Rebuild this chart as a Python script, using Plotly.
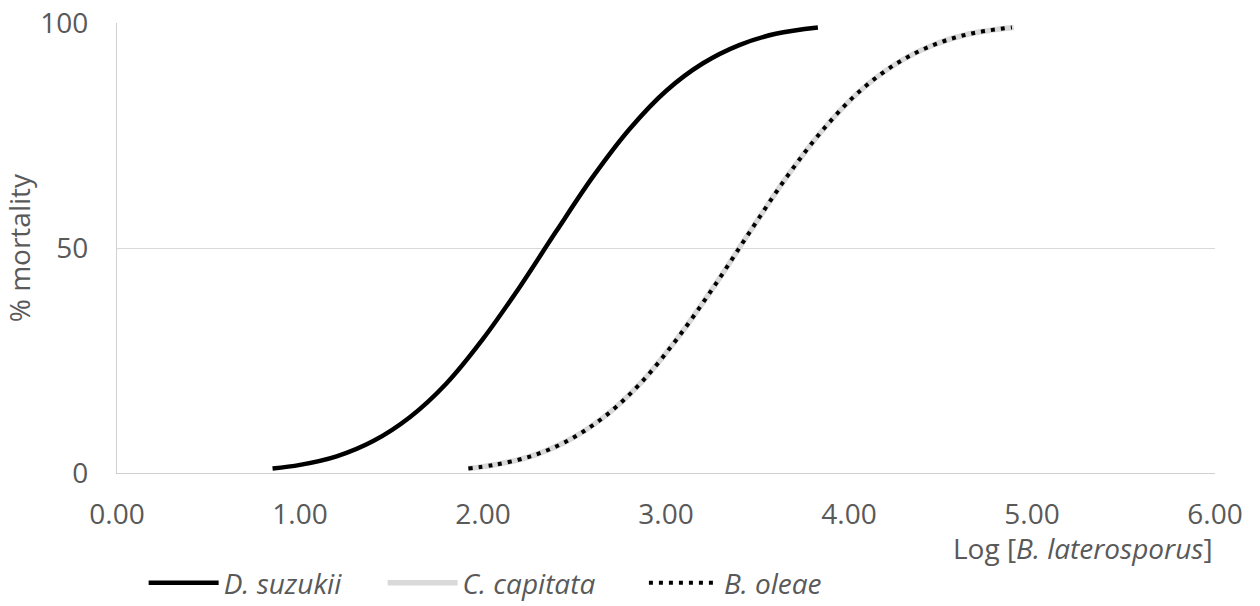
import plotly.graph_objects as go

# Log concentration values and % mortality
x_suzukii = [0.85, 1.0, 1.2, 1.4, 1.6, 1.8, 2.0, 2.2, 2.4, 2.6, 2.8, 3.0, 3.2, 3.4, 3.6, 3.83]
y_suzukii = [1.0, 1.8, 3.7, 7.1, 12.4, 19.9, 29.8, 41.3, 53.7, 65.8, 76.4, 84.9, 91.0, 95.1, 97.6, 99.0]

x_capitata = [1.92, 2.06, 2.26, 2.46, 2.66, 2.86, 3.06, 3.26, 3.46, 3.66, 3.86, 4.06, 4.26, 4.46, 4.66, 4.90]
y_capitata = [1.0, 1.8, 3.7, 7.1, 12.4, 19.9, 29.8, 41.3, 53.7, 65.8, 76.4, 84.9, 91.0, 95.1, 97.6, 99.0]

x_oleae = [1.92, 2.06, 2.26, 2.46, 2.66, 2.86, 3.06, 3.26, 3.46, 3.66, 3.86, 4.06, 4.26, 4.46, 4.66, 4.89]
y_oleae = [1.0, 1.8, 3.7, 7.1, 12.4, 19.9, 29.8, 41.3, 53.7, 65.8, 76.4, 84.9, 91.0, 95.1, 97.6, 99.0]

x_ticks = [0, 1, 2, 3, 4, 5, 6]
y_ticks = [0, 50, 100]

FONT = "Open Sans"
TXT = "#595959"
FS = 28
NB = "\u00a0"

fig = go.Figure()
fig.add_trace(go.Scatter(x=x_suzukii, y=y_suzukii, mode="lines", name="<i>D. suzukii</i>" + NB * 5,
                         line=dict(color="black", width=4.5, shape="spline")))
fig.add_trace(go.Scatter(x=x_capitata, y=y_capitata, mode="lines", name="<i>C. capitata</i>" + NB * 6,
                         line=dict(color="#d9d9d9", width=5.5, shape="spline")))
fig.add_trace(go.Scatter(x=x_oleae, y=y_oleae, mode="lines", name="<i>B. oleae</i>",
                         line=dict(color="black", width=4, shape="spline", dash="4px,6px")))

fig.update_layout(
    width=1260, height=606,
    margin=dict(l=117, r=45, t=23, b=133),
    plot_bgcolor="white", paper_bgcolor="white",
    font=dict(family=FONT, size=FS, color=TXT),
    showlegend=True,
    legend=dict(orientation="h", xref="container", yref="container",
                x=0.114, y=0.038, xanchor="left", yanchor="middle",
                font=dict(family=FONT, size=FS, color=TXT),
                itemwidth=70, tracegroupgap=0, bgcolor="rgba(0,0,0,0)"),
    xaxis=dict(range=[0, 6], tickvals=x_ticks, tickformat=".2f", automargin=False,
               showgrid=False, showline=True, linecolor="#d0d0d0", linewidth=1.3,
               zeroline=False, ticks="", ticklabelstandoff=16,
               tickfont=dict(family=FONT, size=FS, color=TXT)),
    yaxis=dict(range=[0, 100], tickvals=y_ticks, automargin=False,
               showgrid=True, gridcolor="#d9d9d9", gridwidth=1.3,
               showline=True, linecolor="#d0d0d0", linewidth=1.3,
               zeroline=False, ticks="", ticklabelstandoff=22,
               tickfont=dict(family=FONT, size=FS, color=TXT)),
    annotations=[
        dict(text="Log [<i>B. laterosporus</i>]", xref="paper", yref="paper",
             x=1.0, y=-0.167, xanchor="right", yanchor="middle", showarrow=False,
             font=dict(family=FONT, size=FS, color=TXT)),
        dict(text="% mortality", xref="paper", yref="paper", textangle=-90,
             x=-0.089, y=0.5, xanchor="center", yanchor="middle", showarrow=False,
             font=dict(family=FONT, size=FS, color=TXT)),
    ],
)

fig.write_html("out.html", config={"displayModeBar": False},
               post_script="document.body.style.margin='0';")
